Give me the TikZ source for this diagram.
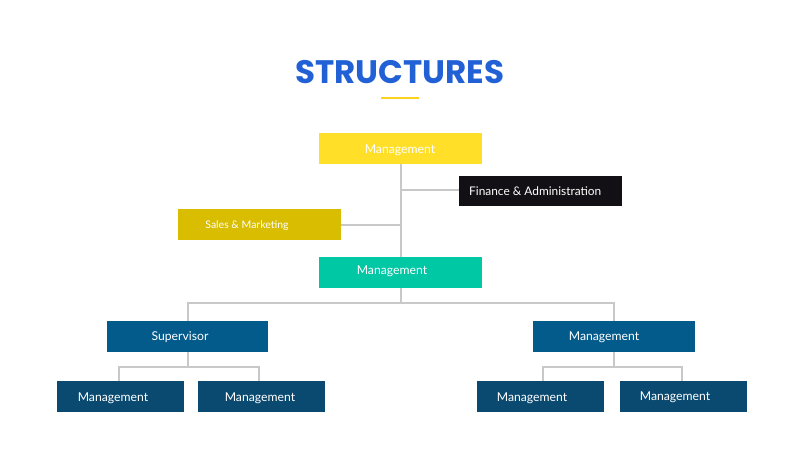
\documentclass[tikz,border=0pt]{standalone}
\usepackage{fontspec}
\setmainfont{Lato}
\newfontfamily\titlefont{Poppins}
\definecolor{cyel}{HTML}{FFDF28}
\definecolor{cmus}{HTML}{D8BD00}
\definecolor{cteal}{HTML}{00C8A5}
\definecolor{cblk}{HTML}{121014}
\definecolor{cmid}{HTML}{035B8C}
\definecolor{cdark}{HTML}{0B4A70}
\definecolor{cline}{HTML}{C8C8C8}
\definecolor{ctitle}{HTML}{2161D5}
\definecolor{cund}{HTML}{FFD21F}
\begin{document}
\begin{tikzpicture}[x=1pt,y=-1pt,
  box/.style={draw=none,inner sep=0pt,anchor=north west},
  lbl/.style={text=white,font=\fontsize{12.2}{14}\selectfont,inner sep=0pt,yshift=-1.5pt},
  conn/.style={draw=cline,line width=1.3pt}]
\useasboundingbox (0,0) rectangle (800,450);
\node[font=\titlefont\bfseries\fontsize{32.5}{36}\selectfont,text=ctitle] (title) at (400,72) {STRUCTURES};
\draw[cund,line width=2.2pt] (381,98) -- (419,98);
% boxes
\node[box,fill=cyel,minimum width=163pt,minimum height=31pt] (m1) at (319,133) {};
\node[box,fill=cblk,minimum width=163pt,minimum height=30pt] (fin) at (459,176) {};
\node[box,fill=cmus,minimum width=163pt,minimum height=31pt] (sal) at (178,209) {};
\node[box,fill=cteal,minimum width=163pt,minimum height=31pt] (m2) at (319,257) {};
\node[box,fill=cmid,minimum width=161pt,minimum height=31pt] (sup) at (107,321) {};
\node[box,fill=cmid,minimum width=162pt,minimum height=31pt] (mr) at (533,321) {};
\node[box,fill=cdark,minimum width=127pt,minimum height=31pt] (b1) at (57,381) {};
\node[box,fill=cdark,minimum width=127pt,minimum height=31pt] (b2) at (198,381) {};
\node[box,fill=cdark,minimum width=127pt,minimum height=31pt] (b3) at (477,381) {};
\node[box,fill=cdark,minimum width=127pt,minimum height=31pt] (b4) at (620,381) {};
% labels
\node[lbl] (t1) at (400,149) {Management};
\node[lbl,anchor=west,font=\fontsize{11.9}{14}\selectfont] (t2) at (469,190) {Finance \& Administration};
\node[lbl,font=\fontsize{10.5}{12}\selectfont] (t3) at (247,224) {Sales \& Marketing};
\node[lbl] (t4) at (392,270) {Management};
\node[lbl] (t5) at (180,336) {Supervisor};
\node[lbl] (t6) at (604,336) {Management};
\node[lbl] (t7) at (113,397) {Management};
\node[lbl] (t8) at (260,397) {Management};
\node[lbl] (t9) at (532,397) {Management};
\node[lbl] (t10) at (675,396) {Management};
% coordinates
\coordinate (jf) at (401,190);
\coordinate (js) at (401,225);
\coordinate (h2) at (401,303);
\coordinate (hl) at (188,303);
\coordinate (hr) at (614,303);
\coordinate (sl) at (188,367);
\coordinate (rl) at (614,367);
% connectors
\draw[conn] (m1.south -| jf) -- (m2.north -| jf);
\draw[conn] (jf) -- (jf -| fin.west);
\draw[conn] (js) -- (js -| sal.east);
\draw[conn] (m2.south -| h2) -- (h2);
\draw[conn] (hl |- sup.north) -- (hl) -- (hr) -- (hr |- mr.north);
\draw[conn] (sup.south -| sl) -- (sl);
\draw[conn] (119,381) -- (119,367) -- (259,367) -- (259,381);
\draw[conn] (mr.south -| rl) -- (rl);
\draw[conn] (543,381) -- (543,367) -- (682,367) -- (682,381);
\end{tikzpicture}
\end{document}
